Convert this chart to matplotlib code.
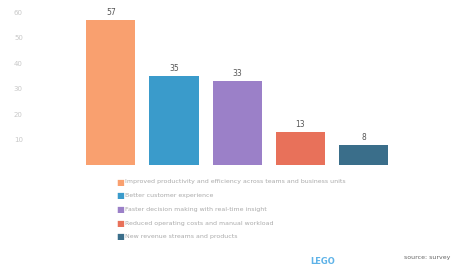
import matplotlib.pyplot as plt

categories = [
    "Improved productivity and efficiency across teams and business units",
    "Better customer experience",
    "Faster decision making with real-time insight",
    "Reduced operating costs and manual workload",
    "New revenue streams and products",
]
values = [57, 35, 33, 13, 8]
colors = ["#F9A06F", "#3A9BCB", "#9B80C8", "#E8715A", "#3A6E8A"]
yticks = [10, 20, 30, 40, 50, 60]

fig = plt.figure(figsize=(4.59, 2.70), dpi=100)
ax = fig.add_axes([0.065, 0.389, 0.81, 0.574])

x = list(range(len(values)))
bars = ax.bar(x, values, width=0.78, color=colors)
for b, v in zip(bars, values):
    ax.text(b.get_x() + b.get_width() / 2, v + 1.2, str(v), ha="center", va="bottom",
            fontsize=5.5, color="#555555")

ax.set_xlim(-1.28, 4.6)
ax.set_ylim(0, 61)
ax.set_yticks(yticks)
ax.set_yticklabels([str(t) for t in yticks], fontsize=5, color="#C8C8C8")
ax.set_xticks([])
ax.tick_params(axis="y", length=0, pad=5)
for s in ax.spines.values():
    s.set_visible(False)

# legend rows under the plot
for i, (c, lab) in enumerate(zip(colors, categories)):
    yy = 1 - (182 + i * 13.7) / 270
    fig.text(116 / 459, yy, "\u25A0", color=c, fontsize=6, va="center")
    fig.text(125 / 459, yy, lab, color="#AAAAAA", fontsize=4.5, va="center")

fig.text(310 / 459, 1 - 262 / 270, "LEGO", color="#5FB3E8", fontsize=6, va="center",
         fontweight="bold")
fig.text(450 / 459, 1 - 258 / 270, "source: survey", color="#666666", fontsize=4.5,
         va="center", ha="right")

fig.savefig("out.png", dpi=100)
